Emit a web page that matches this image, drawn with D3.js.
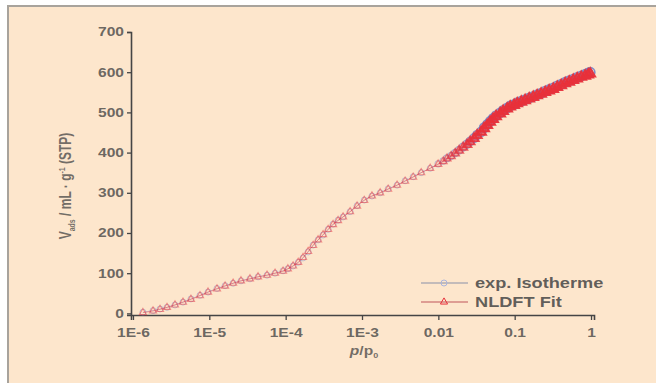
<!DOCTYPE html>
<html><head><meta charset="utf-8">
<script src="https://cdn.jsdelivr.net/npm/d3@7"></script>
<style>
html,body{margin:0;padding:0;background:#fff;}
svg{display:block;}
text{font-family:"Liberation Sans",Arial,sans-serif;}
</style></head>
<body>
<svg id="c" width="656" height="383"></svg>
<script>
// relative pressure p/p0
const pRel = [1.35e-6,1.83e-6,2.26e-6,2.79e-6,3.55e-6,4.52e-6,5.75e-6,7.55e-6,9.62e-6,1.26e-5,1.61e-5,2.05e-5,2.60e-5,3.41e-5,4.35e-5,5.70e-5,7.26e-5,9.24e-5,1.07e-4,1.25e-4,1.46e-4,1.69e-4,1.97e-4,2.29e-4,2.66e-4,3.09e-4,3.60e-4,4.18e-4,4.86e-4,5.65e-4,6.98e-4,8.63e-4,1.07e-3,1.35e-3,1.73e-3,2.20e-3,2.88e-3,3.67e-3,4.68e-3,5.96e-3,7.82e-3,9.94e-3,1.16e-2,1.30e-2,1.47e-2,1.66e-2,1.87e-2,2.11e-2,2.38e-2,2.61e-2,2.94e-2,3.22e-2,3.64e-2,3.98e-2,4.37e-2,4.78e-2,5.22e-2,5.71e-2,6.46e-2,7.06e-2,7.98e-2,8.73e-2,9.84e-2,0.108,0.122,0.137,0.155,0.175,0.197,0.222,0.251,0.283,0.320,0.361,0.407,0.459,0.518,0.585,0.659,0.744,0.840,0.918,0.977];
// experimental isotherm, mL/g STP
const vExp = [3,7,11,15,21,28,36,45,53,62,69,75,81,86,91,95,100,106,111,118,127,138,153,170,183,195,209,222,232,240,253,268,282,292,300,310,319,330,340,350,361,372,379,386,392,399,406,414,421,428,436,444,452,462,470,478,485,492,499,505,511,516,520,524,528,532,536,540,544,548,553,557,561,566,570,575,579,583,587,591,595,598,600];
// NLDFT fit, mL/g STP
const vFit = [2,6,10,15,21,28,35,44,53,61,68,75,81,86,91,95,100,105,111,118,127,139,154,169,183,196,209,221,231,240,253,267,281,292,300,309,319,329,339,350,361,371,378,385,391,398,405,413,420,427,435,443,451,460,468,476,483,490,497,503,509,514,518,522,526,530,534,538,542,546,550,554,558,563,567,572,576,580,584,588,591,594,596];
const xTickVals = [1e-6,1e-5,1e-4,1e-3,1e-2,1e-1,1];
const xTickLabels = ["1E-6","1E-5","1E-4","1E-3","0.01","0.1","1"];
const yTickVals = [0,100,200,300,400,500,600,700];
const seriesNames = ["exp. Isotherme","NLDFT Fit"];

const svg = d3.select("#c");
const W = 656, H = 383;
const SX = 1.3; // horizontal stretch of original typography
const ink = "#454545";

// frame
svg.append("rect").attr("x",0).attr("y",0).attr("width",W).attr("height",H).attr("fill","#ffffff");
svg.append("rect").attr("x",7).attr("y",5).attr("width",W-7).attr("height",H-5).attr("fill","#a8a39c");
svg.append("rect").attr("x",9).attr("y",7).attr("width",W-9).attr("height",H-7).attr("fill","#fde6cc");

const x = d3.scaleLog().domain([9.42e-7, 1.094]).range([131, 594]);
const y = d3.scaleLinear().domain([-4, 700]).range([315, 32]);

// minor ticks
const minor = [];
for (let e = -6; e < 0; e++) for (let k = 2; k <= 9; k++) minor.push(k * Math.pow(10, e));

const gx = svg.append("g").attr("transform","translate(0,315)");
gx.call(d3.axisBottom(x).tickValues(minor).tickSize(3).tickFormat(""));
gx.call(d3.axisBottom(x).tickValues(xTickVals).tickSize(5).tickFormat((d,i)=>xTickLabels[i]));
gx.selectAll(".domain").attr("stroke",ink).attr("stroke-width",1.6);
gx.selectAll(".tick line").attr("stroke",ink).attr("stroke-width",1.3);
gx.selectAll(".tick text").attr("fill",ink).attr("font-size",12).attr("y",13)
  .attr("transform",`scale(${SX},1)`).attr("font-weight","bold").attr("fill-opacity",0.8);

const gy = svg.append("g").attr("transform","translate(131,0)");
gy.call(d3.axisLeft(y).tickValues(yTickVals).tickSize(4));
gy.selectAll(".domain").attr("stroke",ink).attr("stroke-width",1.6);
gy.selectAll(".tick line").attr("stroke",ink).attr("stroke-width",1.3);
gy.selectAll(".tick text").attr("fill",ink).attr("font-size",12).attr("x",-7/SX)
  .attr("transform",`scale(${SX},1)`).attr("font-weight","bold").attr("fill-opacity",0.8);
svg.selectAll(".domain").attr("fill","none");

// axis titles
const yl = svg.append("text").attr("transform",`translate(71,186) rotate(-90) scale(1,${SX})`)
  .attr("text-anchor","middle").attr("fill",ink).attr("font-size",12).attr("font-weight","bold").attr("fill-opacity",0.75);
yl.append("tspan").text("V");
yl.append("tspan").attr("font-size",7).attr("dy",3).text("ads");
yl.append("tspan").attr("dy",-3).text(" / mL · g");
yl.append("tspan").attr("font-size",7).attr("dy",-5).text("-1");
yl.append("tspan").attr("dy",5).text(" (STP)");

const xl = svg.append("text").attr("transform",`translate(364,355) scale(${SX},1)`)
  .attr("text-anchor","middle").attr("fill",ink).attr("font-size",12).attr("font-weight","bold").attr("fill-opacity",0.75);
xl.append("tspan").attr("font-style","italic").text("p");
xl.append("tspan").text("/p");
xl.append("tspan").attr("font-size",7).attr("dy",3).text("0");

const exp = pRel.map((p,i)=>({p, v:vExp[i]}));
const fit = pRel.map((p,i)=>({p, v:vFit[i]}));
const line = d3.line().curve(d3.curveMonotoneX).x(d=>x(d.p)).y(d=>y(d.v));
// density ramp: markers overlap into a solid band above p/p0 ~ 0.03
const ramp = d3.scaleLog().domain([0.009, 0.04]).range([0, 1]).clamp(true);

const cBlue = "#6a7cc8", cRed = "#e8303a";
svg.append("path").datum(exp).attr("d",line).attr("fill","none").attr("stroke",cBlue).attr("stroke-width",1).attr("stroke-opacity",0.35);
svg.append("g").selectAll("circle").data(exp).join("circle")
  .attr("cx",d=>x(d.p)).attr("cy",d=>y(d.v)).attr("r",d=>3+1.6*ramp(d.p))
  .attr("fill","none").attr("stroke",cBlue).attr("stroke-width",d=>1+0.6*ramp(d.p))
  .attr("stroke-opacity",d=>0.4+0.45*ramp(d.p));
svg.append("path").datum(fit).attr("d",line).attr("fill","none").attr("stroke",cRed).attr("stroke-width",1).attr("stroke-opacity",0.4);
const triS = d3.symbol().type(d3.symbolTriangle).size(22);
svg.append("g").selectAll("path").data(fit).join("path")
  .attr("transform",d=>`translate(${x(d.p)},${y(d.v)})`)
  .attr("d",d=>d3.symbol().type(d3.symbolTriangle).size(22+22*ramp(d.p))())
  .attr("fill",cRed).attr("fill-opacity",d=>0.8*ramp(d.p))
  .attr("stroke",cRed).attr("stroke-width",d=>1.1+0.7*ramp(d.p))
  .attr("stroke-opacity",d=>0.5+0.45*ramp(d.p));

// legend
const lg = svg.append("g");
[0,1].forEach(i=>{
  const yy = 283 + i*19;
  const col = i===0 ? "#8a8fa8" : "#c0545a";
  lg.append("line").attr("x1",421).attr("x2",468).attr("y1",yy).attr("y2",yy).attr("stroke",col).attr("stroke-width",1.2);
  if (i===0) lg.append("circle").attr("cx",444).attr("cy",yy).attr("r",3).attr("fill","none").attr("stroke","#aab4dd").attr("stroke-width",1);
  else lg.append("path").attr("transform",`translate(444,${yy})`).attr("d",triS).attr("fill","none").attr("stroke",cRed).attr("stroke-width",1);
  lg.append("text").attr("transform",`translate(475,${yy+5}) scale(${SX},1)`).attr("fill",ink)
    .attr("font-size",14).attr("font-weight","bold").attr("fill-opacity",0.85).text(seriesNames[i]);
});
</script>
</body></html>
